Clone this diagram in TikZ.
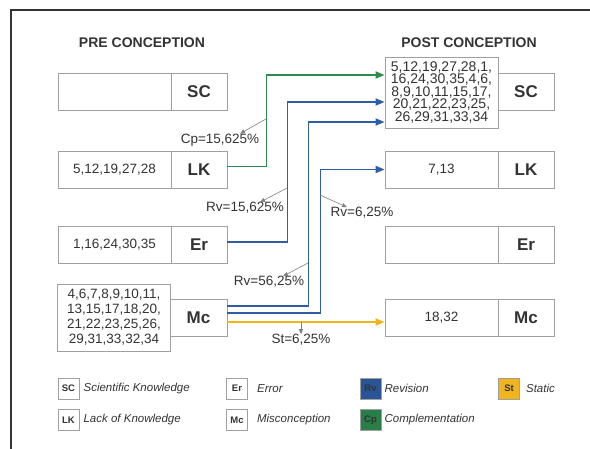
\documentclass[tikz,border=0pt]{standalone}
\usepackage{fontspec}
\setmainfont{Liberation Sans}
\usetikzlibrary{arrows.meta,positioning}

\definecolor{rvblue}{HTML}{2F5DA6}
\definecolor{cpgreen}{HTML}{2E8B4E}
\definecolor{styellow}{HTML}{F0B41C}
\definecolor{boxgray}{HTML}{A0A0A0}
\definecolor{txtgray}{HTML}{333333}

\tikzset{
  lst/.style={draw=boxgray,line width=0.9pt,fill=white,minimum width=113pt,minimum height=37pt,
    inner sep=1pt,align=center,text=txtgray,font=\fontsize{13.5}{15}\selectfont},
  tag/.style={draw=boxgray,line width=0.9pt,fill=white,minimum width=56pt,minimum height=37pt,
    inner sep=0pt,text=txtgray,font=\fontsize{17}{17}\selectfont\bfseries},
  flow/.style={line width=1.8pt,-{Triangle[length=9pt,width=7pt]}},
  note/.style={draw=gray,line width=0.6pt,-{Triangle[length=5pt,width=4pt]}},
  pct/.style={text=txtgray,inner sep=0pt,font=\fontsize{13.5}{14}\selectfont},
  key/.style={draw=boxgray,line width=0.8pt,minimum size=21pt,inner sep=0pt,
    text=txtgray,font=\fontsize{9.5}{10}\selectfont\bfseries},
  keytext/.style={inner sep=0pt,text=txtgray,font=\fontsize{11.5}{12}\selectfont\itshape}
}

\begin{document}
\begin{tikzpicture}[x=1pt,y=-1pt]
\useasboundingbox (0,0) rectangle (590,449);
\draw[line width=1.8pt,color=txtgray] (590,10) -- (11,10) -- (11,449);

\node[text=txtgray,font=\fontsize{14}{14}\selectfont\bfseries] (preHead) at (142,43) {PRE CONCEPTION};
\node[text=txtgray,font=\fontsize{14}{14}\selectfont\bfseries] (postHead) at (469,43) {POST CONCEPTION};

% pre conception
\node[lst] (scPreL) at (114.5,91.5) {};
\node[tag] (scPreT) at (199,91.5) {SC};
\node[lst] (lkPreL) at (114.5,169.5) {5,12,19,27,28};
\node[tag] (lkPreT) at (199,169.5) {LK};
\node[lst] (erPreL) at (114.5,245) {1,16,24,30,35};
\node[tag] (erPreT) at (199,245) {Er};
\node[lst,minimum height=67pt,font=\fontsize{13.5}{15}\selectfont] (mcPreL) at (114,317.5)
  {4,6,7,8,9,10,11,\\13,15,17,18,20,\\21,22,23,25,26,\\29,31,33,32,34};
\node[tag,minimum width=57pt] (mcPreT) at (198.5,317.5) {Mc};

% post conception
\node[tag] (scPostT) at (526,91.5) {SC};
\node[lst,minimum height=71pt,font=\fontsize{14}{12.5}\selectfont] (scPostL) at (441.5,92.5)
  {5,12,19,27,28,1,\\16,24,30,35,4,6,\\8,9,10,11,15,17,\\20,21,22,23,25,\\26,29,31,33,34};
\node[lst] (lkPostL) at (441.5,169.5) {7,13};
\node[tag] (lkPostT) at (526,169.5) {LK};
\node[lst] (erPostL) at (441.5,245) {};
\node[tag] (erPostT) at (526,245) {Er};
\node[lst] (mcPostL) at (441.5,317.5) {18,32};
\node[tag] (mcPostT) at (526,317.5) {Mc};

% flows
\draw[flow,cpgreen] ([yshift=3pt]lkPreT.east) -- ++(39,0) |- ([yshift=17.5pt]scPostL.west);
\draw[flow,rvblue] ([yshift=3pt]erPreT.east) -- ++(60,0) |- ([yshift=-9.5pt]scPostL.west);
\draw[flow,rvblue] ([yshift=11.5pt]mcPreT.east) -- ++(81,0) |- ([yshift=-29.5pt]scPostL.west);
\draw[flow,rvblue] ([yshift=4.5pt]mcPreT.east) -- ++(93,0) |- (lkPostL.west);
\draw[flow,styellow] ([yshift=-4.5pt]mcPreT.east) -- ([yshift=-4.5pt]mcPostL.west);

% percentages
\node[pct] (cpLbl) at (220,140) {Cp=15,625\%};
\node[pct] (rvLbl1) at (245,208) {Rv=15,625\%};
\node[pct] (rvLbl2) at (362,213) {Rv=6,25\%};
\node[pct] (rvLbl3) at (269,282) {Rv=56,25\%};
\node[pct] (stLbl) at (301,340) {St=6,25\%};
\coordinate (cpPt) at (266,119);
\coordinate (rvPt1) at (287,188);
\coordinate (rvPt2) at (320,195);
\coordinate (rvPt3) at (308,263);
\coordinate (stPt) at (301,322);
\draw[note] (cpPt) -- ([xshift=20pt]cpLbl.north);
\draw[note] (rvPt1) -- ([xshift=15pt]rvLbl1.north);
\draw[note] (rvPt2) -- ([xshift=-15pt]rvLbl2.north);
\draw[note] (rvPt3) -- ([xshift=14pt]rvLbl3.north);
\draw[note] (stPt) -- (stLbl.north);

% legend
\node[key] (kSC) at (68.5,388.5) {SC};
\node[keytext,right=4pt of kSC] (tSC) {Scientific Knowledge};
\node[key] (kLK) at (68.5,420) {LK};
\node[keytext,right=4pt of kLK] (tLK) {Lack of Knowledge};
\node[key] (kEr) at (237,388.5) {Er};
\node[keytext,right=9pt of kEr] (tEr) {Error};
\node[key] (kMc) at (237,420) {Mc};
\node[keytext,right=9pt of kMc] (tMc) {Misconception};
\node[key,fill=rvblue!90!black] (kRv) at (370.5,388.5) {Rv};
\node[keytext,right=3pt of kRv] (tRv) {Revision};
\node[key,fill=cpgreen!90!black] (kCp) at (370.5,420) {Cp};
\node[keytext,right=3pt of kCp] (tCp) {Complementation};
\node[key,fill=styellow] (kSt) at (509,388.5) {St};
\node[keytext,right=6pt of kSt] (tSt) {Static};
\end{tikzpicture}
\end{document}
